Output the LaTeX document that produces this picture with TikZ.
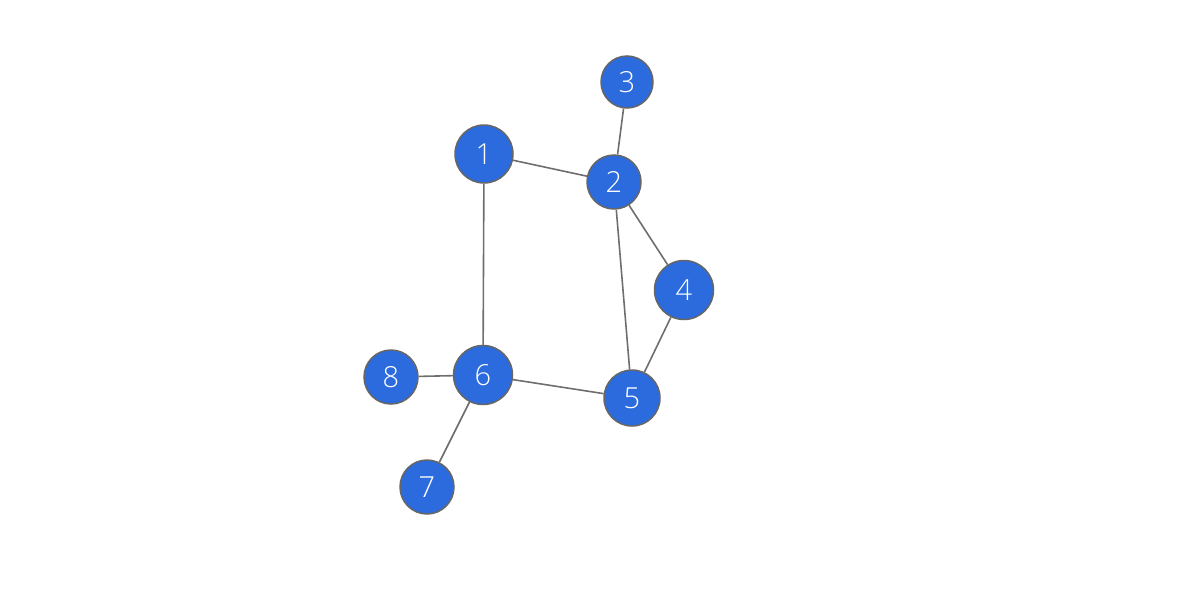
\documentclass[tikz,border=0pt]{standalone}
\usepackage{fontspec}
\setmainfont{Open Sans Light}
\definecolor{nodeblue}{HTML}{2B6BDE}
\definecolor{rimgray}{HTML}{666666}
\definecolor{edgegray}{HTML}{6E6E6E}
\begin{document}
\begin{tikzpicture}[x=1pt,y=-1pt,
  vtx/.style={circle,fill=nodeblue,draw=rimgray,line width=1.5pt,inner sep=0pt,
    text=white,font=\fontsize{29}{29}\selectfont},
  edge/.style={draw=edgegray,line width=1.6pt}]
\useasboundingbox (0,0) rectangle (1200,600);
\node[vtx,minimum size=58pt] (n1) at (484,154) {1};
\node[vtx,minimum size=54pt] (n2) at (614,182) {2};
\node[vtx,minimum size=52pt] (n3) at (627,82) {3};
\node[vtx,minimum size=59pt] (n4) at (684,290) {4};
\node[vtx,minimum size=56pt] (n5) at (632,398) {5};
\node[vtx,minimum size=59pt] (n6) at (483,375) {6};
\node[vtx,minimum size=54pt] (n7) at (427,487) {7};
\node[vtx,minimum size=54pt] (n8) at (391,377) {8};
\draw[edge] (n1) -- (n2);
\draw[edge] (n2) -- (n3);
\draw[edge] (n2) -- (n4);
\draw[edge] (n2) -- (n5);
\draw[edge] (n4) -- (n5);
\draw[edge] (n1) -- (n6);
\draw[edge] (n6) -- (n5);
\draw[edge] (n6) -- (n8);
\draw[edge] (n6) -- (n7);
\end{tikzpicture}
\end{document}
